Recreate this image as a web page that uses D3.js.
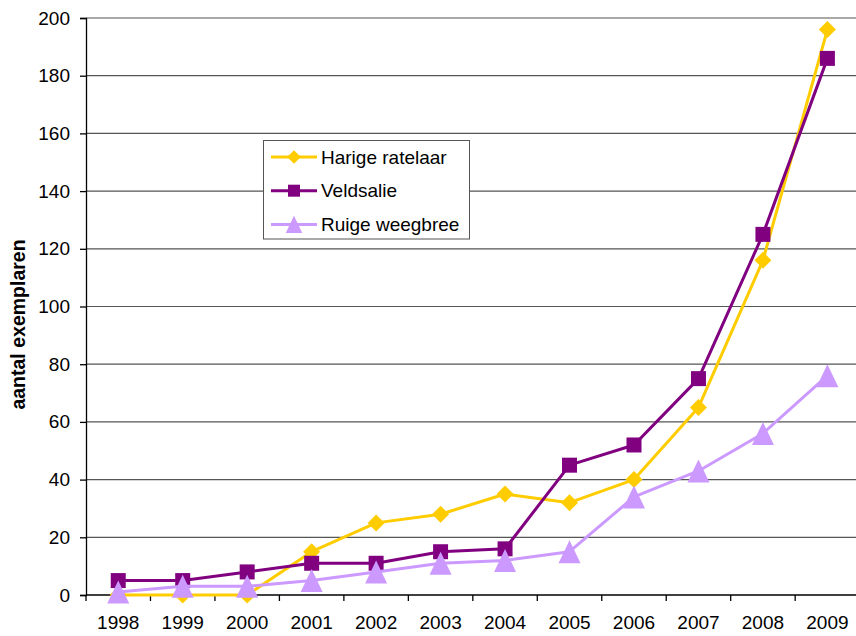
<!DOCTYPE html>
<html>
<head>
<meta charset="utf-8">
<script src="https://cdn.jsdelivr.net/npm/d3@7/dist/d3.min.js"></script>
<style>
  html, body { margin: 0; padding: 0; background: #fff; }
  svg { display: block; }
  text { font-family: "Liberation Sans", Arial, sans-serif; fill: #000; }
</style>
</head>
<body>
<svg id="chart" width="856" height="636"></svg>
<script>
// Aantal exemplaren per jaar
const years = ["1998","1999","2000","2001","2002","2003","2004","2005","2006","2007","2008","2009"];
const harigeRatelaar = [0, 0, 0, 15, 25, 28, 35, 32, 40, 65, 116, 196];
const veldsalie      = [5, 5, 8, 11, 11, 15, 16, 45, 52, 75, 125, 186];
const ruigeWeegbree  = [1, 3, 3, 5, 8, 11, 12, 15, 34, 43, 56, 76];
const yTicks = [0, 20, 40, 60, 80, 100, 120, 140, 160, 180, 200];

const series = [
  { name: "Harige ratelaar", values: harigeRatelaar, color: "#FFCC00", marker: "diamond" },
  { name: "Veldsalie",       values: veldsalie,      color: "#800080", marker: "square" },
  { name: "Ruige weegbree",  values: ruigeWeegbree,  color: "#CC99FF", marker: "triangle" }
];

const svg = d3.select("#chart");
const plotLeft = 86, plotTop = 18, plotBottom = 595;
const band = 64.47;
const plotRight = plotLeft + band * years.length;

const x = d3.scaleBand().domain(years).range([plotLeft, plotRight]).paddingInner(0).paddingOuter(0);
const y = d3.scaleLinear().domain([0, 200]).range([plotBottom, plotTop]);
const cx = d => x(d) + x.bandwidth() / 2;

// Horizontal gridlines
svg.append("g").selectAll("line").data(yTicks.filter(t => t > 0)).join("line")
  .attr("x1", plotLeft).attr("x2", plotRight)
  .attr("y1", d => y(d)).attr("y2", d => y(d))
  .attr("stroke", "#555").attr("stroke-width", 1.2);

// Y axis
const yAxis = svg.append("g").attr("transform", `translate(${plotLeft},0)`)
  .call(d3.axisLeft(y).tickValues(yTicks).tickSize(6).tickPadding(10));
yAxis.select(".domain").attr("stroke", "#000").attr("stroke-width", 1.3);
yAxis.selectAll(".tick line").attr("stroke", "#000").attr("stroke-width", 1.3);
yAxis.selectAll(".tick text").style("font-size", "19px")
  .style("font-family", "'Liberation Sans', Arial, sans-serif").attr("fill", "#000");

// X axis: ticks on the category boundaries, labels centred in each band
const xg = svg.append("g");
xg.append("line").attr("x1", plotLeft).attr("x2", plotRight).attr("y1", plotBottom).attr("y2", plotBottom)
  .attr("stroke", "#000").attr("stroke-width", 1.3);
xg.selectAll("line.tk").data(years.concat(["end"])).join("line").attr("class", "tk")
  .attr("x1", (d, i) => plotLeft + i * x.bandwidth()).attr("x2", (d, i) => plotLeft + i * x.bandwidth())
  .attr("y1", plotBottom).attr("y2", plotBottom + 6)
  .attr("stroke", "#000").attr("stroke-width", 1.3);
xg.selectAll("text").data(years).join("text")
  .attr("x", d => cx(d)).attr("y", 629)
  .attr("text-anchor", "middle").style("font-size", "19px").text(d => d);

// Y axis title
svg.append("text")
  .attr("transform", `translate(18,${(plotTop + plotBottom) / 2 + 18}) rotate(-90)`)
  .attr("text-anchor", "middle").attr("dominant-baseline", "central")
  .style("font-size", "19.5px").style("font-weight", "bold")
  .text("aantal exemplaren");

// Marker shapes
function markerPath(type) {
  if (type === "diamond") return "M0,-8.5L8.5,0L0,8.5L-8.5,0Z";
  if (type === "square") return "M-7.5,-7.5H7.5V7.5H-7.5Z";
  return "M0,-11.5L11,11.5H-11Z";
}

const line = d3.line().x((d, i) => cx(years[i])).y(d => y(d));

series.forEach(s => {
  svg.append("path").datum(s.values)
    .attr("d", line).attr("fill", "none")
    .attr("stroke", s.color).attr("stroke-width", 3).attr("stroke-linejoin", "round");
  svg.append("g").selectAll("path").data(s.values).join("path")
    .attr("transform", (d, i) => `translate(${cx(years[i])},${y(d)})`)
    .attr("d", markerPath(s.marker)).attr("fill", s.color);
});

// Legend
const lg = svg.append("g");
lg.append("rect").attr("x", 263.5).attr("y", 140.5).attr("width", 206).attr("height", 98.5)
  .attr("fill", "#fff").attr("stroke", "#555").attr("stroke-width", 1);
series.forEach((s, i) => {
  const ly = 157 + i * 33.7;
  lg.append("line").attr("x1", 271).attr("x2", 317).attr("y1", ly).attr("y2", ly)
    .attr("stroke", s.color).attr("stroke-width", 3);
  lg.append("path").attr("transform", `translate(294,${ly}) scale(${s.marker === "triangle" ? 0.75 : 0.8})`)
    .attr("d", markerPath(s.marker)).attr("fill", s.color);
  lg.append("text").attr("x", 321).attr("y", ly).attr("dominant-baseline", "central")
    .style("font-size", "19px").text(s.name);
});
</script>
</body>
</html>
